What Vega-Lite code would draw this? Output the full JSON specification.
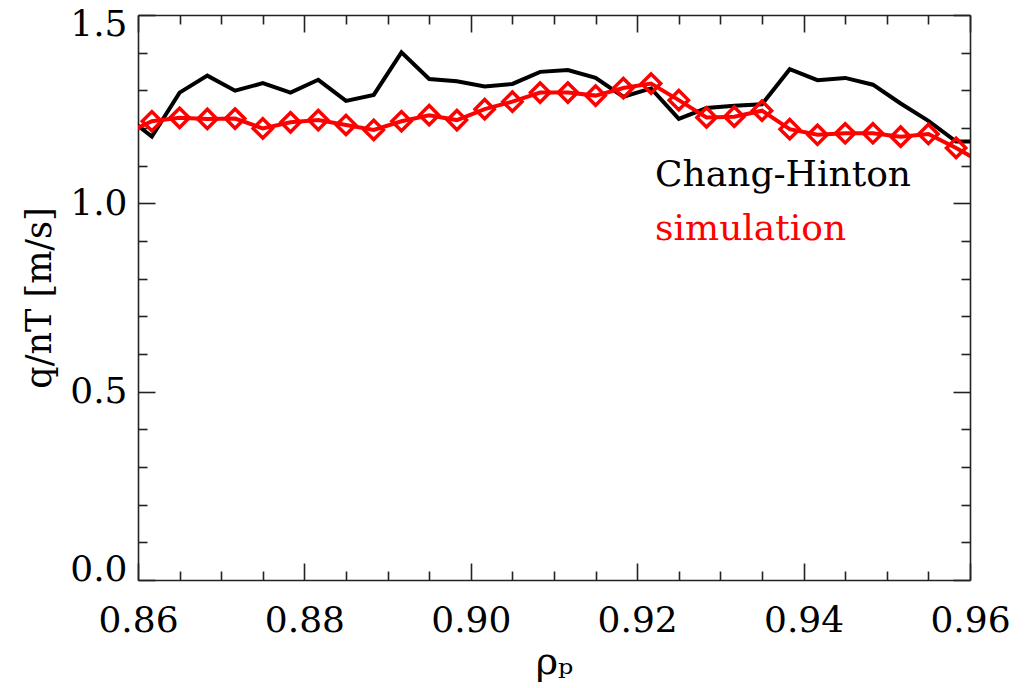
{
  "$schema": "https://vega.github.io/schema/vega-lite/v6.json",
  "width": 832,
  "height": 565,
  "autosize": "none",
  "padding": {"left": 138, "top": 15, "right": 59, "bottom": 108},
  "background": "white",
  "config": {
    "view": {"stroke": null},
    "font": "DejaVu Serif",
    "axis": {
      "grid": false,
      "domainColor": "#222222",
      "tickColor": "#222222",
      "domainWidth": 1.6,
      "tickWidth": 1.6,
      "labelFont": "DejaVu Serif",
      "titleFont": "DejaVu Serif",
      "labelColor": "black",
      "titleColor": "black",
      "titleFontWeight": "normal"
    }
  },
  "datasets": {
    "changHinton": [
      {"rho": 0.858333, "q": 1.235},
      {"rho": 0.861667, "q": 1.177},
      {"rho": 0.865, "q": 1.294},
      {"rho": 0.868333, "q": 1.339},
      {"rho": 0.871667, "q": 1.299},
      {"rho": 0.875, "q": 1.319},
      {"rho": 0.878333, "q": 1.294},
      {"rho": 0.881667, "q": 1.328},
      {"rho": 0.885, "q": 1.272},
      {"rho": 0.888333, "q": 1.288},
      {"rho": 0.891667, "q": 1.401},
      {"rho": 0.895, "q": 1.330},
      {"rho": 0.898333, "q": 1.324},
      {"rho": 0.901667, "q": 1.310},
      {"rho": 0.905, "q": 1.317},
      {"rho": 0.908333, "q": 1.349},
      {"rho": 0.911667, "q": 1.354},
      {"rho": 0.915, "q": 1.333},
      {"rho": 0.918333, "q": 1.283},
      {"rho": 0.921667, "q": 1.305},
      {"rho": 0.925, "q": 1.224},
      {"rho": 0.928333, "q": 1.253},
      {"rho": 0.931667, "q": 1.259},
      {"rho": 0.935, "q": 1.263},
      {"rho": 0.938333, "q": 1.356},
      {"rho": 0.941667, "q": 1.327},
      {"rho": 0.945, "q": 1.333},
      {"rho": 0.948333, "q": 1.315},
      {"rho": 0.951667, "q": 1.265},
      {"rho": 0.955, "q": 1.219},
      {"rho": 0.958333, "q": 1.164},
      {"rho": 0.961667, "q": 1.164}
    ],
    "simulation": [
      {"rho": 0.858333, "q": 1.184},
      {"rho": 0.861667, "q": 1.218},
      {"rho": 0.865, "q": 1.227},
      {"rho": 0.868333, "q": 1.224},
      {"rho": 0.871667, "q": 1.225},
      {"rho": 0.875, "q": 1.199},
      {"rho": 0.878333, "q": 1.215},
      {"rho": 0.881667, "q": 1.221},
      {"rho": 0.885, "q": 1.208},
      {"rho": 0.888333, "q": 1.195},
      {"rho": 0.891667, "q": 1.218},
      {"rho": 0.895, "q": 1.234},
      {"rho": 0.898333, "q": 1.221},
      {"rho": 0.901667, "q": 1.250},
      {"rho": 0.905, "q": 1.270},
      {"rho": 0.908333, "q": 1.294},
      {"rho": 0.911667, "q": 1.294},
      {"rho": 0.915, "q": 1.286},
      {"rho": 0.918333, "q": 1.306},
      {"rho": 0.921667, "q": 1.318},
      {"rho": 0.925, "q": 1.274},
      {"rho": 0.928333, "q": 1.228},
      {"rho": 0.931667, "q": 1.230},
      {"rho": 0.935, "q": 1.246},
      {"rho": 0.938333, "q": 1.197},
      {"rho": 0.941667, "q": 1.182},
      {"rho": 0.945, "q": 1.186},
      {"rho": 0.948333, "q": 1.186},
      {"rho": 0.951667, "q": 1.177},
      {"rho": 0.955, "q": 1.184},
      {"rho": 0.958333, "q": 1.147},
      {"rho": 0.961667, "q": 1.105}
    ],
    "labels": [
      {"rho": 0.92214, "q": 1.047, "text": "Chang-Hinton", "series": "ch"},
      {"rho": 0.92214, "q": 0.903, "text": "simulation", "series": "sim"}
    ]
  },
  "layer": [
    {
      "data": {"name": "changHinton"},
      "mark": {"type": "line", "color": "black", "strokeWidth": 4, "clip": true},
      "encoding": {
        "x": {
          "field": "rho", "type": "quantitative",
          "scale": {"domain": [0.86, 0.96], "nice": false, "zero": false},
          "axis": {
            "orient": "bottom",
            "values": [0.86, 0.88, 0.9, 0.92, 0.94, 0.96],
            "format": ".2f",
            "ticks": false,
            "labelFontSize": 36,
            "labelPadding": 23,
            "labelFlush": false,
            "title": "ρₚ",
            "titleFontSize": 38,
            "titleBaseline": "alphabetic",
            "titleY": 93
          }
        },
        "y": {
          "field": "q", "type": "quantitative",
          "scale": {"domain": [0, 1.5], "nice": false, "zero": false},
          "axis": {
            "orient": "left",
            "values": [0, 0.5, 1, 1.5],
            "format": ".1f",
            "ticks": false,
            "labelFontSize": 36,
            "labelPadding": 11,
            "labelFlush": true,
            "labelFlushOffset": 8,
            "title": "q/nT [m/s]",
            "titleFontSize": 35,
            "titleBaseline": "alphabetic",
            "titleX": -88
          }
        }
      }
    },
    {
      "data": {"name": "simulation"},
      "mark": {"type": "line", "color": "#ff0000", "strokeWidth": 4, "clip": true},
      "encoding": {
        "x": {
          "field": "rho", "type": "quantitative",
          "axis": {"orient": "bottom", "values": [0.86, 0.88, 0.9, 0.92, 0.94, 0.96], "labels": false, "domain": false, "tickSize": -17, "title": null}
        },
        "y": {
          "field": "q", "type": "quantitative",
          "axis": {"orient": "left", "values": [0, 0.5, 1, 1.5], "labels": false, "domain": false, "tickSize": -17, "title": null}
        }
      }
    },
    {
      "data": {"name": "simulation"},
      "mark": {"type": "point", "shape": "diamond", "filled": false, "color": "#ff0000", "strokeWidth": 3.5, "size": 370, "opacity": 1, "clip": true},
      "encoding": {
        "x": {
          "field": "rho", "type": "quantitative",
          "axis": {"orient": "bottom", "values": [0.865, 0.87, 0.875, 0.885, 0.89, 0.895, 0.905, 0.91, 0.915, 0.925, 0.93, 0.935, 0.945, 0.95, 0.955], "labels": false, "domain": false, "tickSize": -9, "title": null}
        },
        "y": {
          "field": "q", "type": "quantitative",
          "axis": {"orient": "left", "values": [0.1, 0.2, 0.3, 0.4, 0.6, 0.7, 0.8, 0.9, 1.1, 1.2, 1.3, 1.4], "labels": false, "domain": false, "tickSize": -9, "title": null}
        }
      }
    },
    {
      "data": {"name": "labels"},
      "transform": [{"filter": "datum.series === 'ch'"}],
      "mark": {"type": "text", "align": "left", "baseline": "alphabetic", "fontSize": 36, "color": "black"},
      "encoding": {
        "x": {
          "field": "rho", "type": "quantitative",
          "axis": {"orient": "top", "values": [0.86, 0.88, 0.9, 0.92, 0.94, 0.96], "labels": false, "domain": true, "tickSize": -17, "title": null}
        },
        "y": {
          "field": "q", "type": "quantitative",
          "axis": {"orient": "right", "values": [0, 0.5, 1, 1.5], "labels": false, "domain": true, "tickSize": -17, "title": null}
        },
        "text": {"field": "text"}
      }
    },
    {
      "data": {"name": "labels"},
      "transform": [{"filter": "datum.series === 'sim'"}],
      "mark": {"type": "text", "align": "left", "baseline": "alphabetic", "fontSize": 36, "color": "#ff0000"},
      "encoding": {
        "x": {
          "field": "rho", "type": "quantitative",
          "axis": {"orient": "top", "values": [0.865, 0.87, 0.875, 0.885, 0.89, 0.895, 0.905, 0.91, 0.915, 0.925, 0.93, 0.935, 0.945, 0.95, 0.955], "labels": false, "domain": false, "tickSize": -9, "title": null}
        },
        "y": {
          "field": "q", "type": "quantitative",
          "axis": {"orient": "right", "values": [0.1, 0.2, 0.3, 0.4, 0.6, 0.7, 0.8, 0.9, 1.1, 1.2, 1.3, 1.4], "labels": false, "domain": false, "tickSize": -9, "title": null}
        },
        "text": {"field": "text"}
      }
    }
  ],
  "resolve": {
    "scale": {"x": "shared", "y": "shared"},
    "axis": {"x": "independent", "y": "independent"}
  }
}
